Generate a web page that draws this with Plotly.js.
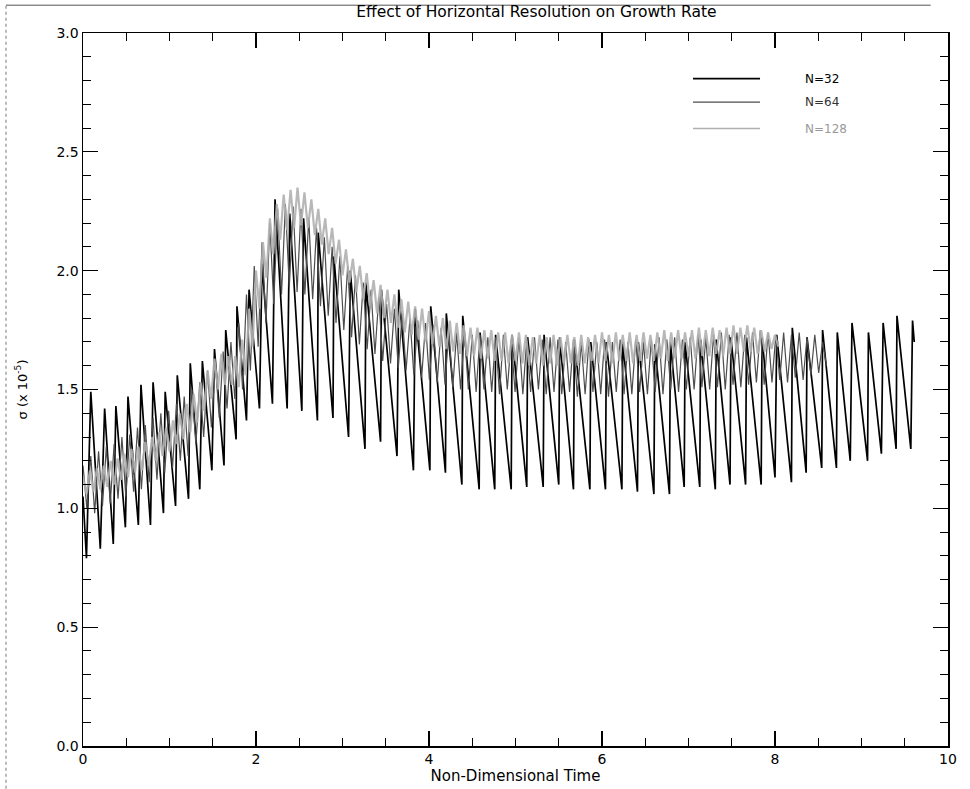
<!DOCTYPE html>
<html>
<head>
<meta charset="utf-8">
<script src="https://cdn.plot.ly/plotly-3.0.1.min.js"></script>
<style>html,body{margin:0;padding:0;background:#fff;}#chart{width:970px;height:789px;}</style>
</head>
<body>
<div id="chart"></div>
<script>
// ---- data ----
const seriesNames = ["N=32", "N=64", "N=128"];

// N=32: sawtooth vertices (time, growth rate)
const t32 = [0.00,0.04,0.09,0.20,0.25,0.35,0.38,0.49,0.52,0.64,0.67,0.78,0.81,0.93,0.95,1.07,1.09,1.22,1.24,1.35,1.38,1.49,1.52,1.63,1.65,1.77,1.78,1.89,1.92,2.04,2.07,2.19,2.22,2.36,2.39,2.53,2.55,2.71,2.72,2.89,2.90,3.07,3.09,3.26,3.27,3.44,3.45,3.63,3.65,3.82,3.84,4.01,4.02,4.19,4.20,4.38,4.39,4.58,4.59,4.76,4.77,4.95,4.96,5.13,5.14,5.32,5.33,5.50,5.51,5.67,5.68,5.86,5.87,6.04,6.05,6.23,6.24,6.41,6.42,6.60,6.61,6.78,6.79,6.95,6.96,7.13,7.14,7.31,7.32,7.48,7.49,7.66,7.67,7.84,7.85,8.00,8.02,8.19,8.20,8.36,8.37,8.54,8.55,8.71,8.72,8.87,8.89,9.07,9.08,9.23,9.25,9.40,9.41,9.57,9.59,9.61];
const v32 = [1.05,0.79,1.49,0.83,1.42,0.85,1.43,0.92,1.47,0.93,1.52,0.93,1.53,0.98,1.49,1.01,1.56,1.04,1.61,1.08,1.62,1.16,1.67,1.18,1.75,1.29,1.85,1.37,1.92,1.42,2.03,1.44,2.30,1.42,2.24,1.41,2.22,1.37,2.16,1.38,2.06,1.30,2.00,1.25,1.95,1.28,1.92,1.22,1.92,1.16,1.84,1.16,1.85,1.15,1.82,1.10,1.81,1.08,1.74,1.08,1.73,1.08,1.73,1.09,1.72,1.09,1.73,1.10,1.72,1.08,1.71,1.08,1.70,1.08,1.70,1.08,1.70,1.07,1.70,1.06,1.69,1.06,1.70,1.09,1.70,1.09,1.71,1.08,1.71,1.10,1.72,1.10,1.72,1.10,1.72,1.13,1.73,1.11,1.76,1.15,1.72,1.17,1.75,1.17,1.74,1.20,1.78,1.20,1.74,1.23,1.78,1.25,1.81,1.25,1.79,1.70];

// N=64: samples every 0.045 time units from t = 0
const t64Start = 0, t64Step = 0.045;
const v64 = [1.18,1.00,1.22,0.98,1.24,1.01,1.26,1.02,1.27,1.04,1.30,1.05,1.31,1.07,1.34,1.08,1.35,1.11,1.38,1.12,
1.40,1.15,1.41,1.17,1.44,1.20,1.47,1.22,1.50,1.27,1.53,1.30,1.58,1.34,1.61,1.38,1.66,1.42,1.70,1.46,
1.78,1.50,1.90,1.58,2.02,1.68,2.12,1.78,2.20,1.86,2.26,1.90,2.28,1.93,2.27,1.91,2.26,1.90,2.22,1.88,
2.18,1.85,2.14,1.81,2.10,1.78,2.06,1.75,2.02,1.72,1.98,1.69,1.95,1.67,1.92,1.65,1.89,1.62,1.86,1.61,
1.84,1.59,1.82,1.58,1.80,1.56,1.79,1.55,1.78,1.54,1.77,1.53,1.76,1.52,1.75,1.51,1.74,1.50,1.74,1.50,
1.73,1.49,1.73,1.50,1.72,1.49,1.72,1.48,1.73,1.50,1.71,1.49,1.72,1.48,1.71,1.49,1.72,1.50,1.71,1.48,
1.72,1.49,1.71,1.48,1.70,1.49,1.71,1.47,1.70,1.48,1.71,1.49,1.70,1.48,1.71,1.47,1.70,1.49,1.71,1.48,
1.70,1.48,1.71,1.49,1.70,1.48,1.71,1.49,1.72,1.48,1.71,1.50,1.72,1.49,1.71,1.50,1.72,1.50,1.73,1.51,
1.72,1.50,1.73,1.51,1.74,1.50,1.73,1.52,1.74,1.51,1.73,1.52,1.74,1.53,1.75,1.52,1.74,1.53,1.73,1.54,
1.74,1.53,1.73,1.55,1.74,1.54,1.72,1.56,1.73,1.57,1.70,1.60];

// N=128: samples every 0.04 time units from t = 0
const t128Start = 0, t128Step = 0.04;
const v128 = [1.13,1.06,1.16,1.07,1.17,1.08,1.18,1.09,1.20,1.10,1.21,1.12,1.23,1.13,1.25,1.15,1.26,1.16,1.28,1.18,
1.30,1.20,1.32,1.22,1.34,1.24,1.37,1.27,1.40,1.29,1.44,1.32,1.48,1.36,1.53,1.41,1.58,1.46,1.63,1.50,
1.65,1.52,1.64,1.52,1.64,1.51,1.71,1.56,1.84,1.68,2.00,1.84,2.12,1.97,2.22,2.07,2.28,2.13,2.32,2.17,
2.34,2.18,2.35,2.19,2.33,2.18,2.30,2.15,2.26,2.11,2.22,2.07,2.18,2.03,2.13,1.98,2.09,1.95,2.05,1.91,
2.02,1.88,1.99,1.85,1.96,1.82,1.94,1.80,1.92,1.78,1.90,1.76,1.88,1.74,1.87,1.73,1.85,1.71,1.84,1.70,
1.83,1.69,1.81,1.68,1.80,1.67,1.79,1.66,1.78,1.65,1.77,1.64,1.76,1.64,1.76,1.63,1.75,1.63,1.75,1.62,
1.74,1.62,1.74,1.61,1.73,1.62,1.74,1.61,1.73,1.60,1.72,1.61,1.73,1.60,1.72,1.61,1.73,1.60,1.72,1.61,
1.73,1.61,1.72,1.60,1.73,1.61,1.72,1.62,1.73,1.61,1.74,1.62,1.73,1.61,1.74,1.62,1.73,1.62,1.74,1.61,
1.73,1.62,1.74,1.63,1.73,1.62,1.74,1.63,1.75,1.62,1.74,1.63,1.75,1.63,1.74,1.64,1.75,1.63,1.76,1.64,
1.75,1.64,1.76,1.65,1.75,1.64,1.76,1.65,1.77,1.65,1.76,1.66,1.77,1.66,1.76,1.65,1.75,1.66,1.74,1.67,
1.73,1.68];

const xTickVals = [0, 2, 4, 6, 8, 10];
const yTickVals = [0.0, 0.5, 1.0, 1.5, 2.0, 2.5, 3.0];

// ---- styling ----
const colors = ["#000000", "#4d4d4d", "#b0b0b0"];
const widths = [1.7, 1.2, 2.2];
const fontFam = "DejaVu Sans, Liberation Sans, Arial, sans-serif";

const traces = [
  {type: "scatter", mode: "lines", name: seriesNames[0], x: t32, y: v32,
   line: {color: colors[0], width: widths[0]}},
  {type: "scatter", mode: "lines", name: seriesNames[1], x0: t64Start, dx: t64Step, y: v64,
   line: {color: colors[1], width: widths[1]}},
  {type: "scatter", mode: "lines", name: seriesNames[2], x0: t128Start, dx: t128Step, y: v128,
   line: {color: colors[2], width: widths[2]}, opacity: 0.9}
];

// custom legend (lines + labels) in paper coordinates
const legY = [0.936, 0.903, 0.866];
const shapes = [];
const annotations = [];
for (let i = 0; i < 3; i++) {
  shapes.push({type: "line", xref: "paper", yref: "paper", x0: 0.7052, x1: 0.7827, y0: legY[i], y1: legY[i],
    line: {color: colors[i], width: i === 0 ? 1.8 : 1.4}});
  annotations.push({xref: "paper", yref: "paper", x: 0.8324, y: legY[i], xanchor: "left", yanchor: "middle",
    text: seriesNames[i], showarrow: false,
    font: {size: 12, color: i === 2 ? "#9a9a9a" : (i === 1 ? "#333" : "#000"), family: fontFam}});
}
// scan border marks
shapes.push({type: "line", xref: "paper", yref: "paper", x0: -0.089, x1: -0.089, y0: -0.06, y1: 1.04,
  line: {color: "#777", width: 1, dash: "dot"}});
shapes.push({type: "line", xref: "paper", yref: "paper", x0: -0.089, x1: 0.98, y0: 1.039, y1: 1.039,
  line: {color: "#555", width: 1}});

const axisCommon = {
  showgrid: false, zeroline: false, showline: true, linecolor: "#000", linewidth: 1.5,
  ticks: "inside", ticklen: 15, tickwidth: 1.3, tickcolor: "#000", mirror: "allticks",
  tickfont: {size: 14, color: "#000", family: fontFam}
};

const layout = {
  width: 970, height: 789,
  margin: {l: 83, r: 22, t: 33, b: 43},
  paper_bgcolor: "#fff", plot_bgcolor: "#fff",
  showlegend: false,
  font: {family: fontFam, color: "#000"},
  title: {text: "Effect of Horizontal Resolution on Growth Rate", x: 0.553, xanchor: "center",
          y: 0.985, yanchor: "middle", yref: "container", font: {size: 15.5, color: "#000", family: fontFam}},
  xaxis: Object.assign({}, axisCommon, {
    range: [0, 10], tickvals: xTickVals, ticktext: xTickVals.map(String),
    minor: {dtick: 0.5, ticklen: 8, ticks: "inside", tickcolor: "#000", tickwidth: 1},
    title: {text: "Non-Dimensional Time", font: {size: 15}, standoff: 2}
  }),
  yaxis: Object.assign({}, axisCommon, {
    range: [0, 3], tickvals: yTickVals, ticktext: yTickVals.map(v => v.toFixed(1)),
    minor: {dtick: 0.1, ticklen: 8, ticks: "inside", tickcolor: "#000", tickwidth: 1},
    title: {text: "σ (x 10<sup>-5</sup>)", font: {size: 13}, standoff: 26}
  }),
  shapes: shapes,
  annotations: annotations
};

Plotly.newPlot("chart", traces, layout, {displayModeBar: false, staticPlot: true});
</script>
</body>
</html>
